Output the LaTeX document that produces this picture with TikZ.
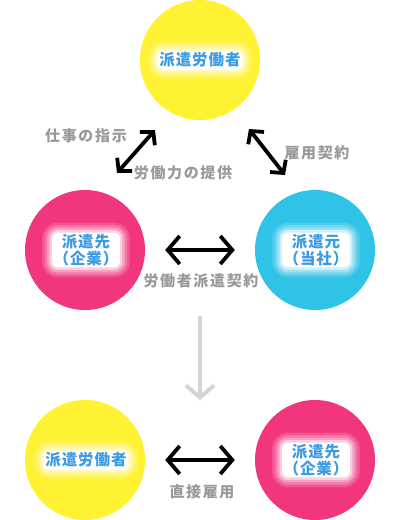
\documentclass[tikz,border=0pt]{standalone}
\usepackage{fontspec}
\newfontfamily\jplab{Noto Sans CJK JP}[LetterSpace=11]
\newfontfamily\jpcirc{Noto Sans CJK JP}[LetterSpace=6]
\usetikzlibrary{arrows.meta}
\definecolor{yel}{HTML}{FFF233}
\definecolor{pnk}{HTML}{F2367E}
\definecolor{cyn}{HTML}{2EC3E7}
\definecolor{txtblue}{HTML}{3B9BE3}
\definecolor{lblgray}{HTML}{999999}
\definecolor{arrgray}{HTML}{D4D4D4}
\tikzset{
  circ/.style={circle, minimum size=120pt, inner sep=0pt, draw=none},
  glowtext/.style={font=\jpcirc\bfseries\fontsize{15.5pt}{17pt}\selectfont, text=txtblue, align=center,
    inner sep=1.5pt, rounded corners=6pt, fill=white,
    preaction={draw=white, draw opacity=0.15, line width=20pt},
    preaction={draw=white, draw opacity=0.2, line width=15pt},
    preaction={draw=white, draw opacity=0.3, line width=10pt},
    preaction={draw=white, draw opacity=0.5, line width=5pt}},
  lbl/.style={font=\jplab\bfseries\fontsize{15pt}{16pt}\selectfont, text=lblgray, inner sep=0pt},
  dbl/.style={line width=3.8pt, {Straight Barb[length=12pt,width=28pt]}-{Straight Barb[length=12pt,width=28pt]}},
  diag/.style={line width=3.8pt, {Straight Barb[length=9pt,width=20pt]}-{Straight Barb[length=9pt,width=20pt]}},
  down/.style={line width=4pt, draw=arrgray, -{Straight Barb[length=12pt,width=28pt]}}
}
\begin{document}
\begin{tikzpicture}[x=1pt,y=-1pt]
\useasboundingbox (0,0) rectangle (400,520);
% circles
\node[circ, fill=yel] (top) at (200,60) {};
\node[circ, fill=pnk] (sakiA) at (85,250) {};
\node[circ, fill=cyn] (moto) at (315,250) {};
\node[circ, fill=yel] (worker) at (85,460) {};
\node[circ, fill=pnk] (sakiB) at (315,460) {};
% circle texts
\node[glowtext] (topt) at (200,60) {派遣労働者};
\node[glowtext] (sakiAt) at (86,250) {派遣先\\（企業）};
\node[glowtext] (motot) at (316,250) {派遣元\\（当社）};
\node[glowtext] (workert) at (86,460) {派遣労働者};
\node[glowtext] (sakiBt) at (316,460) {派遣先\\（企業）};
% arrow ends
\coordinate (l1) at (117,173);
\coordinate (l2) at (155,130);
\coordinate (r1) at (249,129);
\coordinate (r2) at (285,175);
\coordinate (d1) at (200,316);
\coordinate (d2) at (200,400);
% arrows
\draw[diag] (l1) -- (l2);
\draw[diag] (r1) -- (r2);
\draw[dbl] ([xshift=20pt]sakiA.east) -- ([xshift=-20pt]moto.west);
\draw[dbl] ([xshift=20pt]worker.east) -- ([xshift=-20pt]sakiB.west);
\draw[down] (d1) -- (d2);
% labels
\node[lbl] (shiji) at (86,136) {仕事の指示};
\node[lbl] (teikyo) at (183,173) {労働力の提供};
\node[lbl] (koyo) at (317,153) {雇用契約};
\node[lbl] (haken) at (201,281) {労働者派遣契約};
\node[lbl] (chokusetsu) at (202,492) {直接雇用};
\end{tikzpicture}
\end{document}
